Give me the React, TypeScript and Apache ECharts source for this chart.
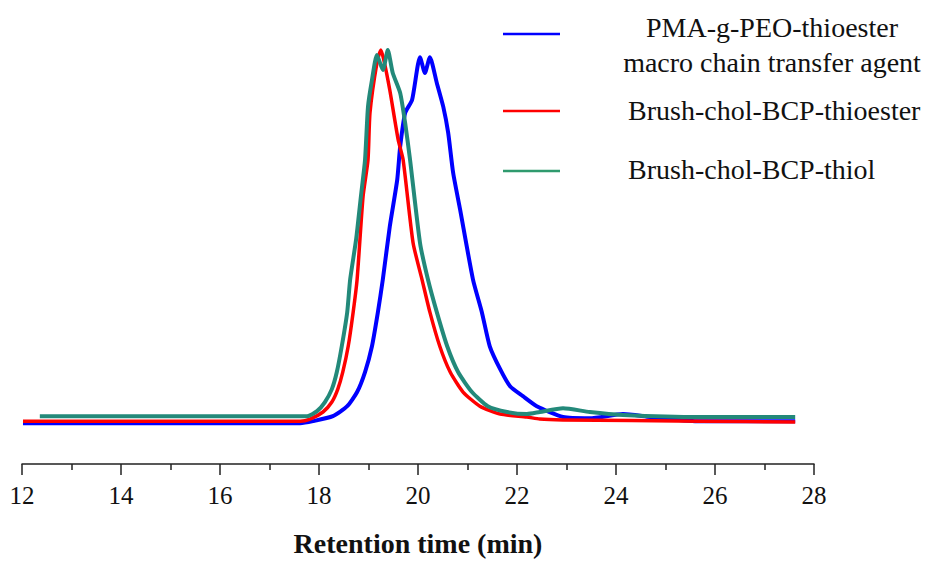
import React, { useEffect, useRef } from "react";
import * as echarts from "echarts";

// Retention time (min) / relative detector response
const pmaX = [12.02, 17.62, 17.88, 18.28, 18.57, 18.77, 18.93, 19.07, 19.19, 19.29, 19.43, 19.58, 19.64, 19.74, 19.88, 20.04, 20.14, 20.24, 20.38, 20.51, 20.61, 20.71, 20.85, 21.11, 21.29, 21.45, 21.66, 21.86, 22.12, 22.40, 22.93, 23.47, 24.14, 24.69, 25.64, 27.62];
const pmaY = [9.8, 9.8, 10.3, 11.5, 13.9, 17.3, 22.1, 28.3, 36.5, 44.4, 57.1, 68.3, 76.3, 84.4, 87.5, 97.8, 94.0, 97.8, 91.6, 85.9, 79.6, 70.0, 61.2, 44.4, 36.5, 28.3, 22.8, 18.7, 16.3, 13.9, 11.3, 11.0, 12.0, 11.3, 10.3, 10.3];

const thioesterX = [12.02, 17.62, 17.82, 18.08, 18.26, 18.38, 18.48, 18.59, 18.69, 18.77, 18.89, 18.99, 19.03, 19.17, 19.25, 19.31, 19.43, 19.60, 19.70, 19.90, 20.08, 20.24, 20.44, 20.65, 20.91, 21.25, 21.66, 22.20, 22.46, 22.93, 25.70, 27.62];
const thioesterY = [10.3, 10.3, 10.8, 12.5, 14.9, 18.0, 22.1, 28.3, 36.5, 44.4, 64.3, 73.1, 84.4, 96.4, 99.5, 97.1, 89.9, 77.9, 73.1, 53.2, 44.4, 36.5, 28.3, 22.1, 17.3, 13.9, 12.0, 11.3, 10.8, 10.6, 10.3, 10.1];

const thiolX = [12.36, 17.62, 17.76, 17.96, 18.12, 18.26, 18.36, 18.46, 18.57, 18.63, 18.75, 18.85, 18.93, 18.99, 19.07, 19.17, 19.29, 19.39, 19.49, 19.64, 19.74, 19.84, 20.04, 20.20, 20.38, 20.59, 20.81, 21.09, 21.41, 21.80, 22.20, 22.46, 22.93, 23.47, 24.14, 25.70, 27.62];
const thiolY = [11.5, 11.5, 11.5, 12.7, 14.9, 18.0, 22.1, 28.3, 36.5, 44.4, 54.0, 64.7, 73.1, 85.9, 92.3, 98.3, 94.7, 99.5, 94.0, 89.2, 82.0, 73.1, 53.2, 44.4, 36.5, 28.3, 22.1, 17.3, 13.9, 12.5, 12.0, 12.5, 13.4, 12.5, 11.8, 11.3, 11.3];

const seriesNames = [
  "PMA-g-PEO-thioester macro chain transfer agent",
  "Brush-chol-BCP-thioester",
  "Brush-chol-BCP-thiol",
];
const seriesColors = ["#0000ff", "#ff0000", "#23897a"];
const legendColors = ["#0000ff", "#ff0000", "#2f9a6e"];

const xMin = 12;
const xMax = 28;
const xInterval = 2;
const xTitle = "Retention time (min)";

const zip = (xs: number[], ys: number[]) => xs.map((x, i) => [x, ys[i]]);

const SERIF = '"Liberation Serif", "Times New Roman", "DejaVu Serif", serif';

export default function App() {
  const ref = useRef<HTMLDivElement>(null);

  useEffect(() => {
    if (!ref.current) return;
    const chart = echarts.init(ref.current, null, { renderer: "svg" });

    const mkSeries = (name: string, data: number[][], color: string, width: number) => ({
      type: "line",
      name,
      data,
      showSymbol: false,
      symbol: "none",
      smooth: 0.2,
      lineStyle: { color, width, join: "round" },
      z: 2,
    });

    chart.setOption({
      animation: false,
      backgroundColor: "#ffffff",
      grid: { left: 22, right: 125, top: 48, bottom: 97, containLabel: false },
      xAxis: {
        type: "value",
        min: xMin,
        max: xMax,
        interval: xInterval,
        name: xTitle,
        nameLocation: "middle",
        nameGap: 65,
        nameTextStyle: { fontFamily: SERIF, fontSize: 28, fontWeight: "bold", color: "#111" },
        axisLine: { show: true, onZero: false, lineStyle: { color: "#222", width: 1.5 } },
        axisTick: { show: true, inside: false, length: 11, lineStyle: { color: "#222", width: 1.5 } },
        minorTick: { show: true, splitNumber: 2, length: 6, lineStyle: { color: "#222", width: 1.5 } },
        axisLabel: { fontFamily: SERIF, fontSize: 25, color: "#111", margin: 19 },
        splitLine: { show: false },
        minorSplitLine: { show: false },
      },
      yAxis: {
        type: "value",
        min: 0,
        max: 100,
        show: false,
        splitLine: { show: false },
      },
      series: [
        mkSeries(seriesNames[0], zip(pmaX, pmaY), seriesColors[0], 4),
        mkSeries(seriesNames[1], zip(thioesterX, thioesterY), seriesColors[1], 3.5),
        mkSeries(seriesNames[2], zip(thiolX, thiolY), seriesColors[2], 4),
      ],
      graphic: [
        { type: "line", shape: { x1: 503, y1: 34, x2: 560, y2: 34 }, style: { stroke: legendColors[0], lineWidth: 2.5 } },
        { type: "line", shape: { x1: 503, y1: 111, x2: 560, y2: 111 }, style: { stroke: legendColors[1], lineWidth: 2.5 } },
        { type: "line", shape: { x1: 503, y1: 171, x2: 560, y2: 171 }, style: { stroke: legendColors[2], lineWidth: 2.5 } },
        {
          type: "text",
          x: 772,
          y: 27,
          style: { text: "PMA-g-PEO-thioester", font: `28px ${SERIF}`, fill: "#111", textAlign: "center", textVerticalAlign: "middle" },
        },
        {
          type: "text",
          x: 772,
          y: 62,
          style: { text: "macro chain transfer agent", font: `28px ${SERIF}`, fill: "#111", textAlign: "center", textVerticalAlign: "middle" },
        },
        {
          type: "text",
          x: 628,
          y: 110,
          style: { text: seriesNames[1], font: `28px ${SERIF}`, fill: "#111", textAlign: "left", textVerticalAlign: "middle" },
        },
        {
          type: "text",
          x: 628,
          y: 169,
          style: { text: seriesNames[2], font: `28px ${SERIF}`, fill: "#111", textAlign: "left", textVerticalAlign: "middle" },
        },
      ],
    });

    return () => chart.dispose();
  }, []);

  return (
    <div
      ref={ref}
      style={{ position: "fixed", left: 0, top: 0, width: 939, height: 562, background: "#fff" }}
    />
  );
}
